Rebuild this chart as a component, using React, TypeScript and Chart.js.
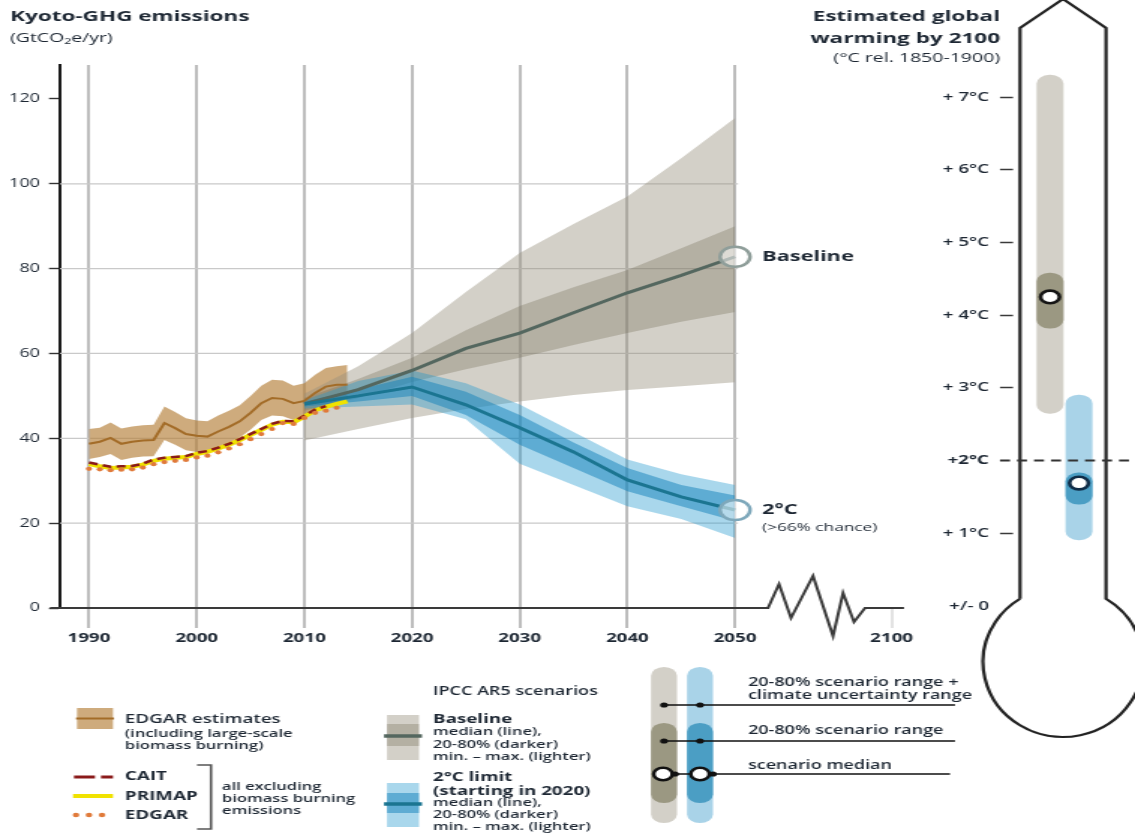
import React, { useEffect, useRef } from 'react';
import { Chart, registerables } from 'chart.js';
Chart.register(...registerables);

// ---------------- data ----------------
const historyYears = [1990, 1991, 1992, 1993, 1994, 1995, 1996, 1997, 1998, 1999, 2000, 2001, 2002, 2003, 2004, 2005, 2006, 2007, 2008, 2009, 2010, 2011, 2012, 2013, 2014];
const edgarEstimateMedian = [38.7, 39.2, 40.1, 38.7, 39.2, 39.5, 39.6, 43.6, 42.4, 41.0, 40.6, 40.4, 41.6, 42.7, 44.0, 46.0, 48.3, 49.5, 49.3, 48.3, 48.8, 50.7, 52.2, 52.6, 52.6];
const edgarEstimateUpper = [42.2, 42.5, 43.7, 42.3, 42.8, 43.1, 43.2, 47.5, 46.2, 44.7, 44.2, 44.0, 45.4, 46.5, 47.8, 50.0, 52.4, 53.8, 53.6, 52.4, 53.0, 55.0, 56.6, 57.0, 57.3];
const edgarEstimateLower = [35.1, 35.6, 36.3, 34.9, 35.4, 35.7, 35.8, 39.6, 38.5, 37.2, 36.8, 36.6, 37.8, 38.9, 40.2, 42.0, 44.3, 45.4, 45.2, 44.3, 44.7, 46.4, 47.9, 48.3, 48.3];

const caitYears = [1990, 1991, 1992, 1993, 1994, 1995, 1996, 1997, 1998, 1999, 2000, 2001, 2002, 2003, 2004, 2005, 2006, 2007, 2008, 2009, 2010, 2011, 2012];
const caitValues = [34.3, 33.8, 33.3, 33.4, 33.5, 34.0, 35.0, 35.4, 35.6, 35.8, 36.6, 37.0, 37.8, 38.7, 39.8, 41.0, 42.2, 43.4, 44.1, 44.0, 45.3, 46.8, 47.6];
const primapValues = [33.9, 33.4, 33.0, 33.1, 33.3, 33.8, 34.7, 35.2, 35.4, 35.6, 36.3, 36.8, 37.6, 38.5, 39.6, 40.8, 42.0, 43.2, 43.9, 43.8, 45.1, 46.6, 47.4, 48.1, 48.7];
const edgarExclYears = [1990, 1991, 1992, 1993, 1994, 1995, 1996, 1997, 1998, 1999, 2000, 2001, 2002, 2003, 2004, 2005, 2006, 2007, 2008, 2009, 2010, 2011, 2012, 2013];
const edgarExclValues = [32.8, 32.7, 32.5, 32.6, 32.7, 33.1, 33.9, 34.4, 34.7, 34.9, 35.5, 35.9, 36.7, 37.6, 38.6, 39.8, 41.0, 42.2, 43.6, 43.4, 44.8, 46.0, 46.5, 47.2];

const scenarioYears = [2010, 2015, 2020, 2025, 2030, 2035, 2040, 2045, 2050];
const baselineMedian = [48.1, 51.5, 56.0, 61.2, 64.8, 69.6, 74.3, 78.4, 82.8];
const baselineMax = [50.5, 57.0, 64.8, 74.5, 83.7, 90.5, 97.0, 106.0, 115.5];
const baselineMin = [39.5, 42.2, 44.8, 46.9, 48.7, 50.2, 51.4, 52.3, 53.2];
const baselineP80 = [49.5, 54.0, 59.0, 65.5, 71.2, 75.6, 79.7, 84.8, 90.0];
const baselineP20 = [46.5, 49.5, 53.3, 56.3, 59.0, 62.0, 64.8, 67.5, 69.8];

const twoDegMedian = [48.1, 50.0, 52.1, 47.9, 42.5, 36.8, 30.2, 26.2, 23.1];
const twoDegMax = [49.0, 53.5, 56.0, 53.0, 48.0, 41.5, 35.0, 31.5, 29.0];
const twoDegMin = [47.0, 47.5, 48.0, 44.5, 34.0, 29.0, 24.0, 21.0, 16.5];
const twoDegP80 = [48.7, 51.5, 54.5, 51.0, 45.5, 39.0, 33.0, 29.0, 26.5];
const twoDegP20 = [47.5, 48.7, 50.0, 45.5, 38.5, 33.0, 27.5, 24.0, 20.5];

const xTickYears = [1990, 2000, 2010, 2020, 2030, 2040, 2050];
const brokenAxisLabel = '2100';
const brokenAxisPosition = 2064.54;
const yTickValues = [0, 20, 40, 60, 80, 100, 120];
const yGridValues = [20, 40, 60, 80, 100];

const warmingCategories = ['', 'Baseline', '2°C', ''];
const warmingTicks = [0, 1, 2, 3, 4, 5, 6, 7];
const warmingTickLabels = ['+/- 0', '+ 1°C', '+2°C', '+ 3°C', '+ 4°C', '+ 5°C', '+ 6°C', '+ 7°C'];
const warmingRange = [null, [2.65, 7.3], [0.91, 2.9], null];
const warmingScenarioRange = [null, [3.82, 4.58], [1.40, 1.83], null];
const warmingMedian = [null, 4.25, 1.69, null];

// ---------------- geometry / style ----------------
const W = 757;
const H = 837;
const SX = 1135 / W;
const px = (v: number) => v / SX;
const FAMILY = "'Open Sans', 'Noto Sans', 'DejaVu Sans', sans-serif";
const font = (w: string | number, s: number) => `${w} ${s}px ${FAMILY}`;
const TEXT = '#1d2733';

const C = {
  edgarBand: 'rgba(180,128,58,0.66)',
  edgarLine: '#a36c28',
  cait: '#8a1a1a',
  primap: '#f0e200',
  edgarDots: '#e07a3a',
  baseLight: 'rgba(150,143,125,0.42)',
  baseDark: 'rgba(120,115,95,0.35)',
  baseLine: '#54675f',
  twoLight: 'rgba(30,150,205,0.38)',
  twoDark: 'rgba(20,130,185,0.5)',
  twoLine: '#1b7591',
};

const pts = (xs: number[], ys: number[]) => xs.map((x, i) => ({ x, y: ys[i] }));

function txt(ctx: CanvasRenderingContext2D, s: string, x: number, y: number, f: string, align: CanvasTextAlign = 'left', color = TEXT) {
  ctx.font = f;
  ctx.fillStyle = color;
  ctx.textAlign = align;
  ctx.textBaseline = 'middle';
  ctx.fillText(s, px(x), y);
}

function hline(ctx: CanvasRenderingContext2D, x1: number, x2: number, y: number, color: string, w: number) {
  ctx.beginPath();
  ctx.strokeStyle = color;
  ctx.lineWidth = w;
  ctx.moveTo(px(x1), y);
  ctx.lineTo(px(x2), y);
  ctx.stroke();
}

function drawLegends(ctx: CanvasRenderingContext2D) {
  ctx.save();
  // titles
  txt(ctx, 'Kyoto-GHG emissions', 10, 17, font('bold', 15));
  txt(ctx, '(GtCO₂e/yr)', 10, 38, font(400, 13));
  txt(ctx, 'Estimated global', 1000, 17, font('bold', 15), 'right');
  txt(ctx, 'warming by 2100', 1000, 39, font('bold', 15), 'right');
  txt(ctx, '(°C rel. 1850-1900)', 1000, 58, font(400, 13), 'right');

  // EDGAR estimates
  ctx.fillStyle = C.edgarBand;
  ctx.fillRect(px(77), 708, px(36), 21);
  hline(ctx, 76, 114, 718.5, C.edgarLine, 2);
  txt(ctx, 'EDGAR estimates', 125, 719, font(600, 12.5));
  txt(ctx, '(including large-scale', 125, 734, font(600, 11));
  txt(ctx, 'biomass burning)', 125, 746, font(600, 11));

  // CAIT / PRIMAP / EDGAR
  hline(ctx, 74, 95, 777, C.cait, 3);
  hline(ctx, 101, 113, 777, C.cait, 3);
  txt(ctx, 'CAIT', 125, 776, font('bold', 12.5));
  hline(ctx, 73, 113, 796, C.primap, 4);
  txt(ctx, 'PRIMAP', 125, 796, font('bold', 12.5));
  ctx.fillStyle = C.edgarDots;
  [76, 89, 102].forEach((x) => {
    ctx.beginPath();
    ctx.arc(px(x), 815, 2.2, 0, Math.PI * 2);
    ctx.fill();
  });
  txt(ctx, 'EDGAR', 125, 815, font('bold', 12.5));
  ctx.beginPath();
  ctx.strokeStyle = '#555';
  ctx.lineWidth = 1.6;
  ctx.moveTo(px(197), 765);
  ctx.lineTo(px(211), 765);
  ctx.lineTo(px(211), 829);
  ctx.lineTo(px(197), 829);
  ctx.stroke();
  txt(ctx, 'all excluding', 222, 787, font(600, 11));
  txt(ctx, 'biomass burning', 222, 799, font(600, 11));
  txt(ctx, 'emissions', 222, 811, font(600, 11));

  // IPCC AR5 scenarios
  txt(ctx, 'IPCC AR5 scenarios', 433, 692, font(600, 12));
  ctx.fillStyle = C.baseLight;
  ctx.fillRect(px(387), 715, px(32), 45);
  ctx.fillStyle = C.baseDark;
  ctx.fillRect(px(387), 724, px(32), 22);
  hline(ctx, 384, 422, 736, C.baseLine, 3.5);
  txt(ctx, 'Baseline', 433, 719, font('bold', 12.5));
  txt(ctx, 'median (line),', 433, 732, font(600, 11));
  txt(ctx, '20-80% (darker)', 433, 745, font(600, 11));
  txt(ctx, 'min. – max. (lighter)', 433, 757, font(600, 11));

  ctx.fillStyle = C.twoLight;
  ctx.fillRect(px(387), 783, px(32), 44);
  ctx.fillStyle = C.twoDark;
  ctx.fillRect(px(387), 793, px(32), 20);
  hline(ctx, 384, 422, 804, C.twoLine, 3.5);
  txt(ctx, '2°C limit', 433, 777, font('bold', 12.5));
  txt(ctx, '(starting in 2020)', 433, 791, font('bold', 12.5));
  txt(ctx, 'median (line),', 433, 803, font(600, 11));
  txt(ctx, '20-80% (darker)', 433, 815, font(600, 11));
  txt(ctx, 'min. – max. (lighter)', 433, 827, font(600, 11));

  // thermometer legend
  const bar = (x: number, y1: number, y2: number, color: string) => {
    ctx.fillStyle = color;
    ctx.beginPath();
    (ctx as any).roundRect(px(x), y1, px(26), y2 - y1, px(13));
    ctx.fill();
  };
  bar(651, 667, 823, '#d3d0c8');
  bar(651, 723, 803, '#9b9882');
  bar(687, 667, 823, '#a9d3e8');
  bar(687, 723, 803, '#4b9ec4');
  const dot = (x: number, y: number) => {
    ctx.fillStyle = '#111';
    ctx.beginPath();
    ctx.arc(px(x), y, 2.6, 0, Math.PI * 2);
    ctx.fill();
  };
  hline(ctx, 664, 955, 705, '#111', 1.3);
  dot(664, 705); dot(700, 705);
  hline(ctx, 664, 955, 741, '#111', 1.3);
  dot(664, 741); dot(700, 741);
  hline(ctx, 675, 950, 774, '#111', 1.3);
  [663, 700].forEach((x) => {
    ctx.beginPath();
    ctx.arc(px(x), 774, 6.2, 0, Math.PI * 2);
    ctx.fillStyle = '#fff';
    ctx.fill();
    ctx.lineWidth = 2.5;
    ctx.strokeStyle = '#111';
    ctx.stroke();
  });
  dot(675, 774); dot(713, 774);
  txt(ctx, '20-80% scenario range +', 748, 683, font(600, 12));
  txt(ctx, 'climate uncertainty range', 748, 696, font(600, 12));
  txt(ctx, '20-80% scenario range', 748, 731, font(600, 12));
  txt(ctx, 'scenario median', 748, 766, font(600, 12));
  ctx.restore();
}

const mainPlugin = {
  id: 'mainDecor',
  beforeDatasetsDraw(chart: any) {
    const { ctx, chartArea, scales } = chart;
    const xEnd = scales.x.getPixelForValue(xTickYears[xTickYears.length - 1]) + px(3);
    ctx.save();
    yGridValues.forEach((v) => {
      const y = scales.y.getPixelForValue(v);
      ctx.beginPath();
      ctx.strokeStyle = '#c9c9c9';
      ctx.lineWidth = 1.3;
      ctx.moveTo(chartArea.left, y);
      ctx.lineTo(xEnd, y);
      ctx.stroke();
    });
    ctx.restore();
  },
  afterDatasetsDraw(chart: any) {
    const { ctx, scales } = chart;
    const y0 = scales.y.getPixelForValue(0);
    ctx.save();
    // x axis line with break
    ctx.beginPath();
    ctx.strokeStyle = '#3a3a3a';
    ctx.lineWidth = 2;
    ctx.lineJoin = 'miter';
    ctx.moveTo(px(50), y0);
    const zig: [number, number][] = [[768, 0], [779, -24], [791, 10], [813, -32], [833, 28], [843, -15], [854, 14], [865, 0], [904, 0]];
    zig.forEach(([x, dy]) => ctx.lineTo(px(x), y0 + dy));
    ctx.stroke();
    // end labels
    const last = scenarioYears.length - 1;
    const xl = scales.x.getPixelForValue(scenarioYears[last]) + px(27);
    const yb = scales.y.getPixelForValue(baselineMedian[last]);
    const yt = scales.y.getPixelForValue(twoDegMedian[last]);
    ctx.restore();
    ctx.save();
    ctx.font = font('bold', 14.5);
    ctx.fillStyle = TEXT;
    ctx.textAlign = 'left';
    ctx.textBaseline = 'middle';
    ctx.fillText('Baseline', xl, yb);
    ctx.fillText('2°C', xl, yt);
    ctx.font = font(400, 11.5);
    ctx.fillText('(>66% chance)', xl, yt + 18);
    ctx.restore();
  },
  afterDraw(chart: any) {
    drawLegends(chart.ctx);
  },
};

function band(upper: number[], lower: number[], xs: number[], color: string, order: number) {
  return [
    { type: 'line', data: pts(xs, upper), borderColor: 'rgba(0,0,0,0)', borderWidth: 0, pointRadius: 0, fill: '+1', backgroundColor: color, order },
    { type: 'line', data: pts(xs, lower), borderColor: 'rgba(0,0,0,0)', borderWidth: 0, pointRadius: 0, fill: false, order },
  ];
}

function mainConfig(): any {
  const last = scenarioYears.length - 1;
  const datasets: any[] = [
    { type: 'line', data: [{ x: scenarioYears[last], y: baselineMedian[last] }], showLine: false, pointRadius: 10, pointBorderWidth: 2.5, pointBorderColor: '#8f9e9a', pointBackgroundColor: 'rgba(255,255,255,0.55)', order: 0 },
    { type: 'line', data: [{ x: scenarioYears[last], y: twoDegMedian[last] }], showLine: false, pointRadius: 10, pointBorderWidth: 2.5, pointBorderColor: '#7ea8bb', pointBackgroundColor: 'rgba(255,255,255,0.55)', order: 0 },
    { type: 'line', data: pts(scenarioYears, twoDegMedian), borderColor: C.twoLine, borderWidth: 3, pointRadius: 0, fill: false, order: 1 },
    { type: 'line', data: pts(scenarioYears, baselineMedian), borderColor: C.baseLine, borderWidth: 3, pointRadius: 0, fill: false, order: 2 },
    { type: 'line', data: pts(edgarExclYears, edgarExclValues), showLine: false, pointRadius: 2.1, pointBorderWidth: 0, pointBackgroundColor: C.edgarDots, order: 3 },
    { type: 'line', data: pts(caitYears, caitValues), borderColor: C.cait, borderWidth: 2.5, borderDash: [6, 3.5], pointRadius: 0, fill: false, order: 4 },
    { type: 'line', data: pts(historyYears, primapValues), borderColor: C.primap, borderWidth: 4, pointRadius: 0, fill: false, order: 5 },
    { type: 'line', data: pts(historyYears, edgarEstimateMedian), borderColor: C.edgarLine, borderWidth: 2, pointRadius: 0, fill: false, order: 6 },
    ...band(twoDegP80, twoDegP20, scenarioYears, C.twoDark, 7),
    ...band(twoDegMax, twoDegMin, scenarioYears, C.twoLight, 8),
    ...band(baselineP80, baselineP20, scenarioYears, C.baseDark, 9),
    ...band(baselineMax, baselineMin, scenarioYears, C.baseLight, 10),
    ...band(edgarEstimateUpper, edgarEstimateLower, historyYears, C.edgarBand, 11),
  ];
  const isBroken = (v: number) => Math.abs(v - brokenAxisPosition) < 0.01;
  return {
    type: 'line',
    data: { datasets },
    options: {
      responsive: false,
      animation: false,
      devicePixelRatio: 1,
      events: [],
      elements: { line: { tension: 0, borderJoin: 'round' } },
      layout: { padding: { left: 0, right: W - px(903), top: 65, bottom: H - 608 - 36 } },
      plugins: { legend: { display: false }, tooltip: { enabled: false }, title: { display: false } },
      scales: {
        x: {
          type: 'linear',
          min: 1987.307,
          max: 2065.6,
          afterFit: (s: any) => { s.height = 36; },
          afterBuildTicks: (s: any) => { s.ticks = [...xTickYears, brokenAxisPosition].map((v) => ({ value: v })); },
          border: { display: false },
          grid: {
            color: (c: any) => (c.tick && isBroken(c.tick.value) ? 'rgba(0,0,0,0)' : '#bdbdbd'),
            lineWidth: 2,
            tickColor: (c: any) => (c.tick && isBroken(c.tick.value) ? '#c6c6c6' : '#bdbdbd'),
            tickWidth: (c: any) => (c.tick && isBroken(c.tick.value) ? 1 : 2),
            tickLength: 20,
          },
          ticks: {
            autoSkip: false,
            maxRotation: 0,
            padding: 3,
            color: TEXT,
            font: { family: FAMILY, size: 12.5, weight: 'bold' },
            callback: (v: any) => (isBroken(Number(v)) ? brokenAxisLabel : String(v)),
          },
        },
        y: {
          type: 'linear',
          min: 0,
          max: 128,
          afterFit: (s: any) => { s.width = px(60); },
          afterBuildTicks: (s: any) => { s.ticks = yTickValues.map((v) => ({ value: v })); },
          border: { display: true, color: '#1a1a1a', width: 2 },
          grid: { drawOnChartArea: false, drawTicks: true, tickLength: px(11), tickColor: '#333', tickWidth: 1.4 },
          ticks: { padding: 6, color: TEXT, font: { family: FAMILY, size: 12, weight: 400 }, callback: (v: any) => String(v) },
        },
      },
    },
    plugins: [mainPlugin],
  };
}

const thermoPlugin = {
  id: 'thermoDecor',
  beforeDatasetsDraw(chart: any) {
    const { ctx } = chart;
    const lx = px(1020), rx = px(1106), cx = px(1063);
    const cy = 662, erx = px(80), ery = 75;
    const dx = (lx - cx) / erx;
    const sy = Math.sqrt(1 - dx * dx);
    const jy = cy - ery * sy;
    const angL = Math.atan2(-sy, dx);
    const angR = Math.atan2(-sy, -dx);
    ctx.save();
    ctx.beginPath();
    ctx.strokeStyle = '#222';
    ctx.lineWidth = 2.2;
    ctx.lineJoin = 'miter';
    ctx.moveTo(lx, jy);
    ctx.lineTo(lx, 28);
    ctx.lineTo(cx, -1);
    ctx.lineTo(rx, 28);
    ctx.lineTo(rx, jy);
    ctx.ellipse(cx, cy, erx, ery, 0, angR, angL, false);
    ctx.stroke();
    ctx.restore();
  },
  afterDraw(chart: any) {
    const { ctx, scales } = chart;
    const y2 = scales.y.getPixelForValue(warmingTicks[2]);
    ctx.save();
    ctx.beginPath();
    ctx.strokeStyle = '#333';
    ctx.lineWidth = 2;
    ctx.setLineDash([px(10), px(7)]);
    ctx.moveTo(px(1000), y2);
    ctx.lineTo(W, y2);
    ctx.stroke();
    ctx.restore();
  },
};

function thermoConfig(): any {
  const hidden = 'rgba(0,0,0,0)';
  return {
    type: 'bar',
    data: {
      labels: warmingCategories,
      datasets: [
        { type: 'line', data: warmingMedian, showLine: false, pointRadius: 6.3, pointBorderWidth: 2.6, pointBackgroundColor: '#fff', pointBorderColor: [hidden, '#151515', '#0f2c47', hidden], order: 1 },
        { type: 'bar', data: warmingScenarioRange, backgroundColor: [hidden, '#9b9882', '#4b9ec4', hidden], barThickness: px(26), borderRadius: px(13), borderSkipped: false, grouped: false, order: 2 },
        { type: 'bar', data: warmingRange, backgroundColor: [hidden, '#d3d0c8', '#a9d3e8', hidden], barThickness: px(26), borderRadius: px(13), borderSkipped: false, grouped: false, order: 3 },
      ],
    },
    options: {
      responsive: false,
      animation: false,
      devicePixelRatio: 1,
      events: [],
      layout: { padding: { left: px(900), right: W - px(1108), top: 24.3, bottom: H - 606 } },
      plugins: { legend: { display: false }, tooltip: { enabled: false } },
      scales: {
        x: { type: 'category', offset: false, display: false, grid: { display: false } },
        y: {
          min: 0,
          max: 8,
          afterFit: (s: any) => { s.width = px(1021) - px(900); },
          afterBuildTicks: (s: any) => { s.ticks = warmingTicks.map((v) => ({ value: v })); },
          border: { display: false },
          grid: {
            drawOnChartArea: false,
            drawTicks: true,
            tickLength: px(21),
            tickWidth: 1.5,
            tickColor: (c: any) => (c.tick && (c.tick.value === 0 || c.tick.value === 2) ? hidden : '#3a3a3a'),
            tickBorderDash: [px(13), 100],
          },
          ticks: {
            padding: 7.4,
            color: TEXT,
            font: (c: any) => ({ family: FAMILY, size: 12.5, weight: c.tick && c.tick.value === 2 ? 'bold' : 600 }),
            callback: (v: any) => warmingTickLabels[warmingTicks.indexOf(Number(v))] ?? '',
          },
        },
      },
    },
    plugins: [thermoPlugin],
  };
}

export default function App() {
  const mainRef = useRef<HTMLCanvasElement>(null);
  const thermoRef = useRef<HTMLCanvasElement>(null);
  useEffect(() => {
    const c1 = new Chart(mainRef.current as HTMLCanvasElement, mainConfig());
    const c2 = new Chart(thermoRef.current as HTMLCanvasElement, thermoConfig());
    return () => {
      c1.destroy();
      c2.destroy();
    };
  }, []);
  const cs: React.CSSProperties = { position: 'absolute', left: 0, top: 0, width: '1135px', height: '837px' };
  return (
    <div style={{ position: 'absolute', left: 0, top: 0, width: 1135, height: 837, background: '#fff', overflow: 'hidden' }}>
      <canvas ref={mainRef} width={W} height={H} style={cs} />
      <canvas ref={thermoRef} width={W} height={H} style={cs} />
    </div>
  );
}
